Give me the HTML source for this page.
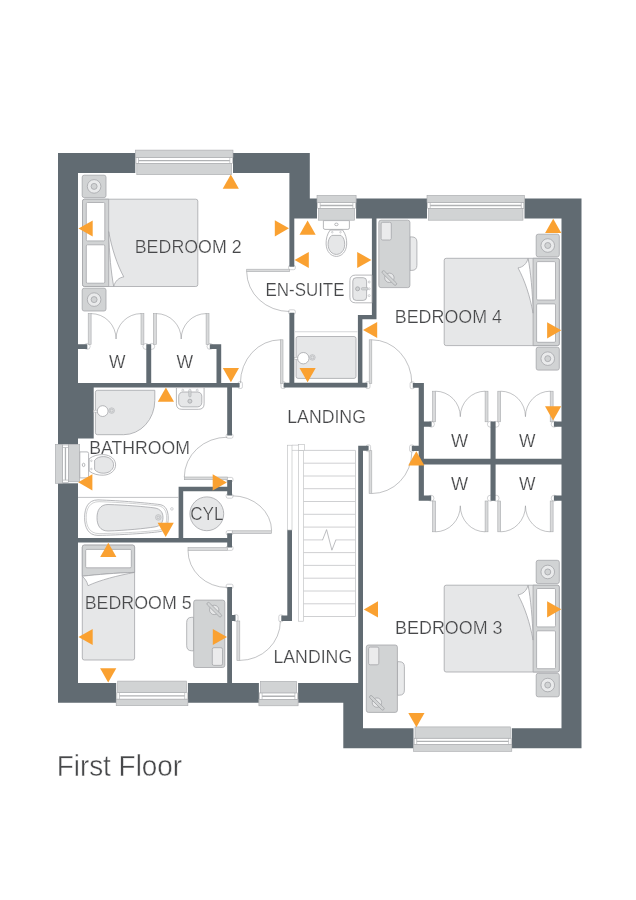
<!DOCTYPE html>
<html lang="en">
<head>
<meta charset="utf-8">
<title>First Floor</title>
<style>
html,body{margin:0;padding:0;background:#fff;}
body{width:636px;height:900px;overflow:hidden;}
svg{display:block;will-change:transform;}
text{font-family:"Liberation Sans",sans-serif;fill:#47484a;}
.lbl{stroke:#fff;stroke-width:0.22px;paint-order:fill stroke;}
.ttl{stroke:#fff;stroke-width:0.45px;paint-order:fill stroke;}
</style>
</head>
<body>
<svg width="636" height="900" viewBox="0 0 636 900">
<rect x="0" y="0" width="636" height="900" fill="#ffffff"/>
<g id="jambs">
<rect x="288.55" y="265.3" width="6.8" height="4.4" fill="#fff" stroke="#b4b6b8" stroke-width="0.6" rx="1.6"/>
<rect x="288.55" y="309.8" width="6.8" height="4.4" fill="#fff" stroke="#b4b6b8" stroke-width="0.6" rx="1.6"/>
<rect x="238" y="381.7" width="4.4" height="6.8" fill="#fff" stroke="#b4b6b8" stroke-width="0.6" rx="1.6"/>
<rect x="281" y="381.7" width="4.4" height="6.8" fill="#fff" stroke="#b4b6b8" stroke-width="0.6" rx="1.6"/>
<rect x="365.6" y="381.7" width="4.4" height="6.8" fill="#fff" stroke="#b4b6b8" stroke-width="0.6" rx="1.6"/>
<rect x="410.1" y="381.9" width="4.4" height="6.8" fill="#fff" stroke="#b4b6b8" stroke-width="0.6" rx="1.6"/>
<rect x="226.2" y="433.8" width="6.8" height="4.4" fill="#fff" stroke="#b4b6b8" stroke-width="0.6" rx="1.6"/>
<rect x="226.2" y="477.4" width="6.8" height="4.4" fill="#fff" stroke="#b4b6b8" stroke-width="0.6" rx="1.6"/>
<rect x="226.2" y="493.8" width="6.8" height="4.4" fill="#fff" stroke="#b4b6b8" stroke-width="0.6" rx="1.6"/>
<rect x="226.2" y="530.6" width="6.8" height="4.4" fill="#fff" stroke="#b4b6b8" stroke-width="0.6" rx="1.6"/>
<rect x="226.2" y="546" width="6.8" height="4.4" fill="#fff" stroke="#b4b6b8" stroke-width="0.6" rx="1.6"/>
<rect x="226.2" y="584.2" width="6.8" height="4.4" fill="#fff" stroke="#b4b6b8" stroke-width="0.6" rx="1.6"/>
<rect x="233.6" y="614.6" width="4.4" height="6.8" fill="#fff" stroke="#b4b6b8" stroke-width="0.6" rx="1.6"/>
<rect x="278.8" y="614.9" width="4.4" height="6.8" fill="#fff" stroke="#b4b6b8" stroke-width="0.6" rx="1.6"/>
<rect x="366.2" y="444.9" width="4.4" height="6.8" fill="#fff" stroke="#b4b6b8" stroke-width="0.6" rx="1.6"/>
<rect x="409.6" y="445" width="4.4" height="6.8" fill="#fff" stroke="#b4b6b8" stroke-width="0.6" rx="1.6"/>
<circle cx="87.2" cy="346.4" r="3" fill="#fff" stroke="#b4b6b8" stroke-width="0.6"/>
<circle cx="145.9" cy="346.4" r="3" fill="#fff" stroke="#b4b6b8" stroke-width="0.6"/>
<circle cx="151.7" cy="346.4" r="3" fill="#fff" stroke="#b4b6b8" stroke-width="0.6"/>
<circle cx="210" cy="346.4" r="3" fill="#fff" stroke="#b4b6b8" stroke-width="0.6"/>
<circle cx="431.4" cy="424.2" r="3" fill="#fff" stroke="#b4b6b8" stroke-width="0.6"/>
<circle cx="490.4" cy="424.2" r="3" fill="#fff" stroke="#b4b6b8" stroke-width="0.6"/>
<circle cx="496.1" cy="424.2" r="3" fill="#fff" stroke="#b4b6b8" stroke-width="0.6"/>
<circle cx="554.2" cy="424.2" r="3" fill="#fff" stroke="#b4b6b8" stroke-width="0.6"/>
<circle cx="431" cy="498.2" r="3" fill="#fff" stroke="#b4b6b8" stroke-width="0.6"/>
<circle cx="490.4" cy="498.2" r="3" fill="#fff" stroke="#b4b6b8" stroke-width="0.6"/>
<circle cx="496.1" cy="498.2" r="3" fill="#fff" stroke="#b4b6b8" stroke-width="0.6"/>
<circle cx="554.2" cy="498.2" r="3" fill="#fff" stroke="#b4b6b8" stroke-width="0.6"/>
</g>
<path id="walls" d="M58 153H78V702.8H58ZM58 153H309.8V173H58ZM289.4 153H309.8V218.4H289.4ZM289.4 198.6H581.5V218.4H289.4ZM561.5 198.6H581.5V748.2H561.5ZM343.3 728.3H581.5V748.2H343.3ZM343.3 683H363V748.2H343.3ZM58 683H363V702.8H58ZM78 383H93.7V438.4H78ZM78 383H239.6V387.6H78ZM146.3 344.2H151.2V383H146.3ZM78 344.3H87.3V349H78ZM216.5 344.2H221.2V383H216.5ZM209.8 344.3H221.2V349H209.8ZM227.2 383H232V435.4H227.2ZM289.4 218H294.3V266.8H289.4ZM289.4 312.7H294.3V387.5H289.4ZM283.6 382.8H367.4V387.5H283.6ZM371.9 218H376.5V319.2H371.9ZM357.9 315H376.5V319.2H357.9ZM357.9 315H362.4V387.5H357.9ZM418.7 382.9H423.9V500.8H418.7ZM412.8 382.9H423.9V387.8H412.8ZM411.8 445.8H423.9V451H411.8ZM418.7 458.8H561.5V464.6H418.7ZM490.5 421.6H495.6V500.8H490.5ZM419 421.6H431.6V426.7H419ZM419 495.6H431.2V500.8H419ZM553.9 421.6H561.5V426.7H553.9ZM553.9 495.6H561.5V500.8H553.9ZM358.2 445.8H363V683H358.2ZM358.2 445.8H368.6V450.8H358.2ZM287.3 529.4H292V621H287.3ZM281.3 615.6H292V621H281.3ZM232 615H235.5V621H232ZM227.2 480H232V495.4H227.2ZM227.2 533.2H232V547.6H227.2ZM227.2 587H232V683H227.2ZM178.6 486.8H232V491.2H178.6ZM178.6 486.8H183.2V540H178.6ZM78 538H232V542.5H78Z" fill="#616b72"/>
<g id="windows">
<rect x="135.3" y="150.1" width="97.7" height="24.6" fill="#fff"/>
<rect x="136" y="157.5" width="96.3" height="6.1" fill="#fff" stroke="#a7a9ac" stroke-width="0.6"/>
<path d="M138.5 157.5V163.6M229.8 157.5V163.6" fill="none" stroke="#a7a9ac" stroke-width="0.6"/>
<path d="M138.5 160.55H229.8" fill="none" stroke="#b0b2b4" stroke-width="1.3"/>
<rect x="135.3" y="150.1" width="97.7" height="7.4" fill="#d1d3d4" stroke="#a7a9ac" stroke-width="0.6"/>
<rect x="136.8" y="163.6" width="94.7" height="11.1" fill="#d1d3d4" stroke="#a7a9ac" stroke-width="0.6"/>
<rect x="317" y="195.3" width="39.1" height="24.9" fill="#fff"/>
<rect x="317.7" y="202.5" width="37.7" height="6" fill="#fff" stroke="#a7a9ac" stroke-width="0.6"/>
<path d="M320.2 202.5V208.5M352.9 202.5V208.5" fill="none" stroke="#a7a9ac" stroke-width="0.6"/>
<path d="M320.2 205.5H352.9" fill="none" stroke="#b0b2b4" stroke-width="1.3"/>
<rect x="317" y="195.3" width="39.1" height="7.2" fill="#d1d3d4" stroke="#a7a9ac" stroke-width="0.6"/>
<rect x="318.5" y="208.5" width="36.1" height="11.7" fill="#d1d3d4" stroke="#a7a9ac" stroke-width="0.6"/>
<rect x="427" y="195.3" width="97.5" height="24.9" fill="#fff"/>
<rect x="427.7" y="202.5" width="96.1" height="6" fill="#fff" stroke="#a7a9ac" stroke-width="0.6"/>
<path d="M430.2 202.5V208.5M521.3 202.5V208.5" fill="none" stroke="#a7a9ac" stroke-width="0.6"/>
<path d="M430.2 205.5H521.3" fill="none" stroke="#b0b2b4" stroke-width="1.3"/>
<rect x="427" y="195.3" width="97.5" height="7.2" fill="#d1d3d4" stroke="#a7a9ac" stroke-width="0.6"/>
<rect x="428.5" y="208.5" width="94.5" height="11.7" fill="#d1d3d4" stroke="#a7a9ac" stroke-width="0.6"/>
<rect x="116.2" y="681.1" width="71.7" height="24.6" fill="#fff"/>
<rect x="116.9" y="692.7" width="70.3" height="6.5" fill="#fff" stroke="#a7a9ac" stroke-width="0.6"/>
<path d="M119.4 699.2V692.7M184.7 699.2V692.7" fill="none" stroke="#a7a9ac" stroke-width="0.6"/>
<path d="M119.4 695.95H184.7" fill="none" stroke="#b0b2b4" stroke-width="1.3"/>
<rect x="116.2" y="699.2" width="71.7" height="6.5" fill="#d1d3d4" stroke="#a7a9ac" stroke-width="0.6"/>
<rect x="117.7" y="681.1" width="68.7" height="11.6" fill="#d1d3d4" stroke="#a7a9ac" stroke-width="0.6"/>
<rect x="258.9" y="681.3" width="39.2" height="24.5" fill="#fff"/>
<rect x="259.6" y="692.9" width="37.8" height="6.7" fill="#fff" stroke="#a7a9ac" stroke-width="0.6"/>
<path d="M262.1 699.6V692.9M294.9 699.6V692.9" fill="none" stroke="#a7a9ac" stroke-width="0.6"/>
<path d="M262.1 696.25H294.9" fill="none" stroke="#b0b2b4" stroke-width="1.3"/>
<rect x="258.9" y="699.6" width="39.2" height="6.2" fill="#d1d3d4" stroke="#a7a9ac" stroke-width="0.6"/>
<rect x="260.4" y="681.3" width="36.2" height="11.6" fill="#d1d3d4" stroke="#a7a9ac" stroke-width="0.6"/>
<rect x="413.5" y="726.9" width="98.3" height="24.5" fill="#fff"/>
<rect x="414.2" y="738.2" width="96.9" height="6.2" fill="#fff" stroke="#a7a9ac" stroke-width="0.6"/>
<path d="M416.7 744.4V738.2M508.6 744.4V738.2" fill="none" stroke="#a7a9ac" stroke-width="0.6"/>
<path d="M416.7 741.3H508.6" fill="none" stroke="#b0b2b4" stroke-width="1.3"/>
<rect x="413.5" y="744.4" width="98.3" height="7" fill="#d1d3d4" stroke="#a7a9ac" stroke-width="0.6"/>
<rect x="415" y="726.9" width="95.3" height="11.3" fill="#d1d3d4" stroke="#a7a9ac" stroke-width="0.6"/>
<rect x="55.3" y="444.3" width="24.4" height="39" fill="#fff"/>
<rect x="62.5" y="445" width="5.9" height="37.6" fill="#fff" stroke="#a7a9ac" stroke-width="0.6"/>
<path d="M62.5 447.5H68.4M62.5 480.1H68.4" fill="none" stroke="#a7a9ac" stroke-width="0.6"/>
<path d="M65.45 447.5V480.1" fill="none" stroke="#b0b2b4" stroke-width="1.3"/>
<rect x="55.3" y="444.3" width="7.2" height="39" fill="#d1d3d4" stroke="#a7a9ac" stroke-width="0.6"/>
<rect x="68.4" y="444.6" width="11.3" height="37.2" fill="#d1d3d4" stroke="#a7a9ac" stroke-width="0.6"/>
</g>
<g id="stairs">
<rect x="287.3" y="445.2" width="4.7" height="84.8" fill="#fff" stroke="#b9bbbd" stroke-width="0.6"/>
<path d="M292 445.2H298.6M292 450.4H298.6" fill="none" stroke="#b9bbbd" stroke-width="0.6"/>
<rect x="298.6" y="444.4" width="6" height="6.3" fill="#fff" stroke="#b9bbbd" stroke-width="0.6"/>
<rect x="298.6" y="450.7" width="5" height="170.5" fill="#fff" stroke="#b9bbbd" stroke-width="0.6"/>
<path d="M303.6 450.4H355.5M303.6 463.2H355.5M303.6 476.0H355.5M303.6 488.7H355.5M303.6 501.5H355.5M303.6 514.3H355.5M303.6 527.1H355.5M303.6 539.9H323M335.5 539.9H355.5M303.6 552.6H355.5M303.6 565.4H355.5M303.6 578.2H355.5M303.6 591.0H355.5M303.6 603.8H355.5M303.6 616.5H355.5" fill="none" stroke="#c9cbcd" stroke-width="0.9"/>
<path d="M355.5 450.4V616.5" fill="none" stroke="#c9cbcd" stroke-width="0.9"/>
<path d="M322.6 539.9L326.6 529.6L331.9 550.2L335.9 539.9" fill="none" stroke="#a2a4a7" stroke-width="0.7" stroke-linejoin="miter"/>
</g>
<g id="doors">
<rect x="88.2" y="313.6" width="2.9" height="30.7" fill="#d9dadb" stroke="#a9abad" stroke-width="0.6"/>
<rect x="141" y="313.6" width="2.9" height="30.7" fill="#d9dadb" stroke="#a9abad" stroke-width="0.6"/>
<path d="M91.1 313.6A24.95 25.4 0 0 1 116.05 339" fill="none" stroke="#8f9194" stroke-width="0.55"/>
<path d="M141 313.6A24.95 25.4 0 0 0 116.05 339" fill="none" stroke="#8f9194" stroke-width="0.55"/>
<rect x="153.4" y="313.6" width="2.9" height="30.7" fill="#d9dadb" stroke="#a9abad" stroke-width="0.6"/>
<rect x="206.1" y="313.6" width="2.9" height="30.7" fill="#d9dadb" stroke="#a9abad" stroke-width="0.6"/>
<path d="M156.3 313.6A24.9 25.4 0 0 1 181.2 339" fill="none" stroke="#8f9194" stroke-width="0.55"/>
<path d="M206.1 313.6A24.9 25.4 0 0 0 181.2 339" fill="none" stroke="#8f9194" stroke-width="0.55"/>
<rect x="432.6" y="391.2" width="2.9" height="30.6" fill="#d9dadb" stroke="#a9abad" stroke-width="0.6"/>
<rect x="485.1" y="391.2" width="2.9" height="30.6" fill="#d9dadb" stroke="#a9abad" stroke-width="0.6"/>
<path d="M435.5 391.2A24.8 25.5 0 0 1 460.3 416.7" fill="none" stroke="#8f9194" stroke-width="0.55"/>
<path d="M485.1 391.2A24.8 25.5 0 0 0 460.3 416.7" fill="none" stroke="#8f9194" stroke-width="0.55"/>
<rect x="497.8" y="391.2" width="2.9" height="30.6" fill="#d9dadb" stroke="#a9abad" stroke-width="0.6"/>
<rect x="550.2" y="391.2" width="2.9" height="30.6" fill="#d9dadb" stroke="#a9abad" stroke-width="0.6"/>
<path d="M500.7 391.2A24.75 25.5 0 0 1 525.45 416.7" fill="none" stroke="#8f9194" stroke-width="0.55"/>
<path d="M550.2 391.2A24.75 25.5 0 0 0 525.45 416.7" fill="none" stroke="#8f9194" stroke-width="0.55"/>
<rect x="432.6" y="501" width="2.9" height="30.8" fill="#d9dadb" stroke="#a9abad" stroke-width="0.6"/>
<rect x="485.1" y="501" width="2.9" height="30.8" fill="#d9dadb" stroke="#a9abad" stroke-width="0.6"/>
<path d="M435.5 531.8A24.8 26 0 0 0 460.3 505.8" fill="none" stroke="#8f9194" stroke-width="0.55"/>
<path d="M485.1 531.8A24.8 26 0 0 1 460.3 505.8" fill="none" stroke="#8f9194" stroke-width="0.55"/>
<rect x="497.8" y="501" width="2.9" height="30.8" fill="#d9dadb" stroke="#a9abad" stroke-width="0.6"/>
<rect x="550.2" y="501" width="2.9" height="30.8" fill="#d9dadb" stroke="#a9abad" stroke-width="0.6"/>
<path d="M500.7 531.8A24.75 26 0 0 0 525.45 505.8" fill="none" stroke="#8f9194" stroke-width="0.55"/>
<path d="M550.2 531.8A24.75 26 0 0 1 525.45 505.8" fill="none" stroke="#8f9194" stroke-width="0.55"/>
<rect x="246.7" y="269.2" width="42.9" height="2.5" fill="#d9dadb" stroke="#a9abad" stroke-width="0.6"/>
<path d="M246.7 271.7A42.8 40 0 0 0 289.5 311.5" fill="none" stroke="#8f9194" stroke-width="0.55"/>
<rect x="280.4" y="339.8" width="2.6" height="43.6" fill="#d9dadb" stroke="#a9abad" stroke-width="0.6"/>
<path d="M280.4 339.8A40 43.4 0 0 0 240.4 383.2" fill="none" stroke="#8f9194" stroke-width="0.55"/>
<rect x="369.2" y="339.8" width="2.6" height="43.6" fill="#d9dadb" stroke="#a9abad" stroke-width="0.6"/>
<path d="M371.8 339.8A40 43.4 0 0 1 411.8 383.2" fill="none" stroke="#8f9194" stroke-width="0.55"/>
<rect x="184.3" y="477" width="43.1" height="2.7" fill="#d9dadb" stroke="#a9abad" stroke-width="0.6"/>
<path d="M184.3 477A43 40 0 0 1 227.4 437.2" fill="none" stroke="#8f9194" stroke-width="0.55"/>
<rect x="232.2" y="530.8" width="39.4" height="2.7" fill="#d9dadb" stroke="#a9abad" stroke-width="0.6"/>
<path d="M271.6 530.8A39.4 35 0 0 0 232.2 495.8" fill="none" stroke="#8f9194" stroke-width="0.55"/>
<rect x="188" y="547.6" width="39.4" height="2.8" fill="#d9dadb" stroke="#a9abad" stroke-width="0.6"/>
<path d="M188 550.4A39.4 37 0 0 0 227.4 587.5" fill="none" stroke="#8f9194" stroke-width="0.55"/>
<rect x="236.9" y="621" width="2.9" height="39.6" fill="#d9dadb" stroke="#a9abad" stroke-width="0.6"/>
<path d="M239.8 660.4A40.6 39.4 0 0 0 280.4 621" fill="none" stroke="#8f9194" stroke-width="0.55"/>
<rect x="369.1" y="450.7" width="2.7" height="42.8" fill="#d9dadb" stroke="#a9abad" stroke-width="0.6"/>
<path d="M371.8 493.5A40 41.5 0 0 0 411.8 452" fill="none" stroke="#8f9194" stroke-width="0.55"/>
</g>
<g id="furniture">
<rect x="82.2" y="175.2" width="23.8" height="22.4" fill="#d1d3d4" stroke="#a4a6a9" stroke-width="0.8" rx="2"/>
<circle cx="94.1" cy="186.4" r="6.8" fill="#e9eaeb" stroke="#a4a6a9" stroke-width="0.8"/>
<circle cx="94.1" cy="186.4" r="3" fill="#d1d3d4" stroke="#a4a6a9" stroke-width="0.8"/>
<rect x="82.2" y="288.2" width="23.8" height="22.8" fill="#d1d3d4" stroke="#a4a6a9" stroke-width="0.8" rx="2"/>
<circle cx="94.1" cy="299.6" r="6.8" fill="#e9eaeb" stroke="#a4a6a9" stroke-width="0.8"/>
<circle cx="94.1" cy="299.6" r="3" fill="#d1d3d4" stroke="#a4a6a9" stroke-width="0.8"/>
<rect x="82.5" y="199.2" width="115.3" height="87.3" fill="#e6e7e8" stroke="#a4a6a9" stroke-width="0.8" rx="2"/>
<path d="M108.7 199.2H84.5Q82.5 199.2 82.5 201.2V284.5Q82.5 286.5 84.5 286.5H108.7Z" fill="#d1d3d4" stroke="#a4a6a9" stroke-width="0.8"/>
<path d="M108.7 231.6C111.8 248.5 117 264.5 123.8 276.9C119 277.5 115.1 281 113.7 286.5C111.1 272.5 109.3 254.5 108.7 231.6Z" fill="#fff" stroke="#a4a6a9" stroke-width="0.8"/>
<rect x="86.3" y="202.5" width="18.5" height="38.4" fill="#fff" stroke="#a4a6a9" stroke-width="0.8" rx="1.2"/>
<rect x="86.3" y="244.8" width="18.5" height="38.4" fill="#fff" stroke="#a4a6a9" stroke-width="0.8" rx="1.2"/>
<rect x="536.2" y="234.2" width="23.1" height="22.6" fill="#d1d3d4" stroke="#a4a6a9" stroke-width="0.8" rx="2"/>
<circle cx="547.75" cy="245.5" r="6.8" fill="#e9eaeb" stroke="#a4a6a9" stroke-width="0.8"/>
<circle cx="547.75" cy="245.5" r="3" fill="#d1d3d4" stroke="#a4a6a9" stroke-width="0.8"/>
<rect x="536.2" y="347.2" width="23.1" height="22.9" fill="#d1d3d4" stroke="#a4a6a9" stroke-width="0.8" rx="2"/>
<circle cx="547.75" cy="358.65" r="6.8" fill="#e9eaeb" stroke="#a4a6a9" stroke-width="0.8"/>
<circle cx="547.75" cy="358.65" r="3" fill="#d1d3d4" stroke="#a4a6a9" stroke-width="0.8"/>
<rect x="444.2" y="258.3" width="115.1" height="87.3" fill="#e6e7e8" stroke="#a4a6a9" stroke-width="0.8" rx="2"/>
<path d="M533.1 258.3H557.3Q559.3 258.3 559.3 260.3V343.6Q559.3 345.6 557.3 345.6H533.1Z" fill="#d1d3d4" stroke="#a4a6a9" stroke-width="0.8"/>
<path d="M533.1 313.2C530 296.3 524.8 280.3 518 267.9C522.8 267.3 526.7 263.8 528.1 258.3C530.7 272.3 532.5 290.3 533.1 313.2Z" fill="#fff" stroke="#a4a6a9" stroke-width="0.8"/>
<rect x="536.6" y="261.6" width="18.9" height="38.4" fill="#fff" stroke="#a4a6a9" stroke-width="0.8" rx="1.2"/>
<rect x="536.6" y="303.9" width="18.9" height="38.4" fill="#fff" stroke="#a4a6a9" stroke-width="0.8" rx="1.2"/>
<rect x="536.2" y="560.3" width="23.1" height="23.3" fill="#d1d3d4" stroke="#a4a6a9" stroke-width="0.8" rx="2"/>
<circle cx="547.75" cy="571.95" r="6.8" fill="#e9eaeb" stroke="#a4a6a9" stroke-width="0.8"/>
<circle cx="547.75" cy="571.95" r="3" fill="#d1d3d4" stroke="#a4a6a9" stroke-width="0.8"/>
<rect x="536.2" y="673.3" width="23.1" height="23.5" fill="#d1d3d4" stroke="#a4a6a9" stroke-width="0.8" rx="2"/>
<circle cx="547.75" cy="685.05" r="6.8" fill="#e9eaeb" stroke="#a4a6a9" stroke-width="0.8"/>
<circle cx="547.75" cy="685.05" r="3" fill="#d1d3d4" stroke="#a4a6a9" stroke-width="0.8"/>
<rect x="444.2" y="585.2" width="115.1" height="86.8" fill="#e6e7e8" stroke="#a4a6a9" stroke-width="0.8" rx="2"/>
<path d="M533.1 585.2H557.3Q559.3 585.2 559.3 587.2V670Q559.3 672 557.3 672H533.1Z" fill="#d1d3d4" stroke="#a4a6a9" stroke-width="0.8"/>
<path d="M533.1 640.1C530 623.2 524.8 607.2 518 594.8C522.8 594.2 526.7 590.7 528.1 585.2C530.7 599.2 532.5 617.2 533.1 640.1Z" fill="#fff" stroke="#a4a6a9" stroke-width="0.8"/>
<rect x="536.6" y="588.5" width="18.9" height="38.4" fill="#fff" stroke="#a4a6a9" stroke-width="0.8" rx="1.2"/>
<rect x="536.6" y="630.8" width="18.9" height="37.9" fill="#fff" stroke="#a4a6a9" stroke-width="0.8" rx="1.2"/>
<rect x="82.3" y="545.1" width="52.3" height="114.9" fill="#e6e7e8" stroke="#a4a6a9" stroke-width="0.8" rx="2"/>
<path d="M82.3 576.2V547.1Q82.3 545.1 84.3 545.1H132.6Q134.6 545.1 134.6 547.1V572.4C115 573 98 574.5 82.3 576.2Z" fill="#d1d3d4" stroke="#a4a6a9" stroke-width="0.8"/>
<rect x="85.7" y="549.4" width="45.6" height="18.4" fill="#fff" stroke="#a4a6a9" stroke-width="0.8" rx="1.2"/>
<path d="M134.6 572.4C115 573 98 574.5 82.3 576.2C84.5 578.5 87 581 88 585.7C100 580 118 575.5 134.6 572.4Z" fill="#fff" stroke="#a4a6a9" stroke-width="0.8"/>
<g transform="translate(378.8 220.2)">
<path d="M31.1 16.7H33Q38.1 16.7 38.1 21.8V45.1Q38.1 50.2 33 50.2H31.1Z" fill="#e9eaeb" stroke="#a4a6a9" stroke-width="0.8"/>
<rect x="0" y="0" width="31.1" height="67.4" fill="#d1d3d4" stroke="#a4a6a9" stroke-width="0.8" rx="2.2"/>
<rect x="2.3" y="2.1" width="10.2" height="17.7" fill="#ebebec" stroke="#a4a6a9" stroke-width="0.8" rx="1.6"/>
<circle cx="10.6" cy="57.6" r="4.7" fill="#e6e7e8" stroke="#a4a6a9" stroke-width="0.8"/>
<rect x="-9.7" y="-1.45" width="19.4" height="2.9" rx="1.45" fill="#d1d3d4" stroke="#a4a6a9" stroke-width="0.8" transform="translate(10.55 57.8) rotate(44.8)"/>
</g>
<g transform="translate(366.3 645)">
<path d="M31.1 16.7H33Q38.1 16.7 38.1 21.8V45.1Q38.1 50.2 33 50.2H31.1Z" fill="#e9eaeb" stroke="#a4a6a9" stroke-width="0.8"/>
<rect x="0" y="0" width="31.1" height="67.4" fill="#d1d3d4" stroke="#a4a6a9" stroke-width="0.8" rx="2.2"/>
<rect x="2.3" y="2.1" width="10.2" height="17.7" fill="#ebebec" stroke="#a4a6a9" stroke-width="0.8" rx="1.6"/>
<circle cx="10.6" cy="57.6" r="4.7" fill="#e6e7e8" stroke="#a4a6a9" stroke-width="0.8"/>
<rect x="-9.7" y="-1.45" width="19.4" height="2.9" rx="1.45" fill="#d1d3d4" stroke="#a4a6a9" stroke-width="0.8" transform="translate(10.55 57.8) rotate(44.8)"/>
</g>
<g transform="translate(224.8 667.5) rotate(180)">
<path d="M31.1 16.7H33Q38.1 16.7 38.1 21.8V45.1Q38.1 50.2 33 50.2H31.1Z" fill="#e9eaeb" stroke="#a4a6a9" stroke-width="0.8"/>
<rect x="0" y="0" width="31.1" height="67.4" fill="#d1d3d4" stroke="#a4a6a9" stroke-width="0.8" rx="2.2"/>
<rect x="2.3" y="2.1" width="10.2" height="17.7" fill="#ebebec" stroke="#a4a6a9" stroke-width="0.8" rx="1.6"/>
<circle cx="10.6" cy="57.6" r="4.7" fill="#e6e7e8" stroke="#a4a6a9" stroke-width="0.8"/>
<rect x="-9.7" y="-1.45" width="19.4" height="2.9" rx="1.45" fill="#d1d3d4" stroke="#a4a6a9" stroke-width="0.8" transform="translate(10.55 57.8) rotate(44.8)"/>
</g>
<path d="M323.4 220.6H349.4V227.8Q349.4 229.4 347.8 229.4H325Q323.4 229.4 323.4 227.8Z" fill="#fff" stroke="#a4a6a9" stroke-width="0.8"/>
<ellipse cx="336.4" cy="224.4" rx="1.7" ry="1.3" fill="#fff" stroke="#a4a6a9" stroke-width="0.8"/>
<path d="M330.2 230H342.6C345.7 234 346.8 239 346.7 244C346.4 252 341.4 256.4 336.4 256.4C331.4 256.4 326.4 252 326.1 244C326 239 327.1 234 330.2 230Z" fill="#fff" stroke="#a4a6a9" stroke-width="0.8"/>
<path d="M331.8 235.4H341C343.8 237.5 344.8 241 344.7 244.6C344.5 251 340.4 254.4 336.4 254.4C332.4 254.4 328.3 251 328.1 244.6C328 241 329 237.5 331.8 235.4Z" fill="#e6e7e8" stroke="#a4a6a9" stroke-width="0.8"/>
<circle cx="332.3" cy="232.2" r="0.8" fill="#fff" stroke="#a7a9ac" stroke-width="0.5"/>
<circle cx="340.5" cy="232.2" r="0.8" fill="#fff" stroke="#a7a9ac" stroke-width="0.5"/>
<g transform="translate(79.8 464.9) rotate(-90)">
<path d="M-13 0H13V7.2Q13 8.8 11.4 8.8H-11.4Q-13 8.8 -13 7.2Z" fill="#fff" stroke="#a4a6a9" stroke-width="0.8"/>
<ellipse cx="0" cy="3.8" rx="1.7" ry="1.3" fill="#fff" stroke="#a4a6a9" stroke-width="0.8"/>
<path d="M-6.2 9.4H6.2C9.3 13.4 10.4 18.4 10.3 23.4C10 31.4 5 35.8 0 35.8C-5 35.8 -10 31.4 -10.3 23.4C-10.4 18.4 -9.3 13.4 -6.2 9.4Z" fill="#fff" stroke="#a4a6a9" stroke-width="0.8"/>
<path d="M-4.6 14.8H4.6C7.4 16.9 8.4 20.4 8.3 24C8.1 30.4 4 33.8 0 33.8C-4 33.8 -8.1 30.4 -8.3 24C-8.4 20.4 -7.4 16.9 -4.6 14.8Z" fill="#e6e7e8" stroke="#a4a6a9" stroke-width="0.8"/>
<circle cx="-4.1" cy="11.6" r="0.8" fill="#fff" stroke="#a7a9ac" stroke-width="0.5"/>
<circle cx="4.1" cy="11.6" r="0.8" fill="#fff" stroke="#a7a9ac" stroke-width="0.5"/>
</g>
<path d="M372 275.1H355.5Q349.9 275.1 349.9 280.7V297.2Q349.9 302.8 355.5 302.8H372Z" fill="#fff" stroke="#a4a6a9" stroke-width="0.8"/>
<rect x="352.8" y="277.7" width="13.8" height="22.7" fill="#e6e7e8" stroke="#a4a6a9" stroke-width="0.8" rx="3.4"/>
<circle cx="357.6" cy="288.8" r="2" fill="#d1d3d4" stroke="#a4a6a9" stroke-width="0.8"/>
<rect x="361.3" y="287.6" width="7" height="2.4" fill="#d1d3d4" stroke="#a7a9ac" stroke-width="0.5" rx="1.2"/>
<circle cx="369.2" cy="282" r="1" fill="#fff" stroke="#a7a9ac" stroke-width="0.5"/>
<circle cx="369.2" cy="295.6" r="1" fill="#fff" stroke="#a7a9ac" stroke-width="0.5"/>
<circle cx="369.2" cy="288.8" r="1" fill="#fff" stroke="#a7a9ac" stroke-width="0.5"/>
<path d="M176.4 387.6V403.8Q176.4 409.3 181.9 409.3H198.6Q204.1 409.3 204.1 403.8V387.6Z" fill="#fff" stroke="#a4a6a9" stroke-width="0.8"/>
<rect x="178.7" y="392" width="23.1" height="14.9" fill="#e6e7e8" stroke="#a4a6a9" stroke-width="0.8" rx="4.2"/>
<circle cx="189.9" cy="401.2" r="2" fill="#d1d3d4" stroke="#a4a6a9" stroke-width="0.8"/>
<rect x="188.7" y="390" width="2.4" height="7" fill="#d1d3d4" stroke="#a7a9ac" stroke-width="0.5" rx="1.2"/>
<circle cx="182.8" cy="390.2" r="1" fill="#fff" stroke="#a7a9ac" stroke-width="0.5"/>
<circle cx="197.2" cy="390.2" r="1" fill="#fff" stroke="#a7a9ac" stroke-width="0.5"/>
<circle cx="189.9" cy="390.2" r="1" fill="#fff" stroke="#a7a9ac" stroke-width="0.5"/>
<path d="M294.4 331.7H357.6" fill="none" stroke="#d5d6d8" stroke-width="1.1"/>
<rect x="296.1" y="336.5" width="59.9" height="41.9" fill="#e6e7e8" stroke="#a4a6a9" stroke-width="0.8" rx="2"/>
<rect x="294.4" y="357.3" width="4.1" height="1.9" fill="#fff" stroke="#a7a9ac" stroke-width="0.5"/>
<circle cx="303.3" cy="358.2" r="5.7" fill="#fff" stroke="#a4a6a9" stroke-width="0.8"/>
<circle cx="312.4" cy="357.4" r="2.8" fill="#dfe0e1" stroke="#a7a9ac" stroke-width="0.5"/>
<circle cx="312.4" cy="357.4" r="1.5" fill="none" stroke="#a7a9ac" stroke-width="0.5"/>
<path d="M97.4 390.3H154.8V400.4A31.2 34.3 0 0 1 123.6 434.7H97.4Q95.4 434.7 95.4 432.7V392.3Q95.4 390.3 97.4 390.3Z" fill="#e6e7e8" stroke="#a4a6a9" stroke-width="0.8"/>
<rect x="93.7" y="410.2" width="4.3" height="1.9" fill="#fff" stroke="#a7a9ac" stroke-width="0.5"/>
<circle cx="102.7" cy="411.1" r="5.4" fill="#fff" stroke="#a4a6a9" stroke-width="0.8"/>
<circle cx="111.7" cy="410.6" r="2.8" fill="#dfe0e1" stroke="#a7a9ac" stroke-width="0.5"/>
<circle cx="111.7" cy="410.6" r="1.5" fill="none" stroke="#a7a9ac" stroke-width="0.5"/>
<path d="M78 497.4H178.6" fill="none" stroke="#a7a9ac" stroke-width="0.7"/>
<path d="M98 499.9C120 500.6 148 503 160 504.6C166 505.6 168.2 511 168.2 518C168.2 525.5 166 530.5 160 531.6C148 533.3 120 535 98 535.4C88 535.4 84.6 527 84.6 517.6C84.6 508 88 499.9 98 499.9Z" fill="#fff" stroke="#a4a6a9" stroke-width="0.8"/>
<g transform="translate(126.4 517.6) scale(0.962 0.9) translate(-126.4 -517.6)">
<path d="M98 499.9C120 500.6 148 503 160 504.6C166 505.6 168.2 511 168.2 518C168.2 525.5 166 530.5 160 531.6C148 533.3 120 535 98 535.4C88 535.4 84.6 527 84.6 517.6C84.6 508 88 499.9 98 499.9Z" fill="none" stroke="#a4a6a9" stroke-width="0.55"/>
</g>
<path d="M108 504.5C125 505 145 506.6 155 508C160.5 509 163 512.5 163 517.6C163 522.5 160.5 526 155 526.9C145 528.5 125 530.5 108 531C100 531 97 525 97 517.7C97 510.5 100 504.5 108 504.5Z" fill="#e6e7e8" stroke="#a4a6a9" stroke-width="0.8"/>
<circle cx="158.3" cy="517.4" r="2.8" fill="#dfe0e1" stroke="#a7a9ac" stroke-width="0.5"/>
<circle cx="158.3" cy="517.4" r="1.3" fill="none" stroke="#a7a9ac" stroke-width="0.5"/>
<circle cx="171.9" cy="508.9" r="1.3" fill="#fff" stroke="#a7a9ac" stroke-width="0.5"/>
<circle cx="206.8" cy="513.8" r="16.9" fill="#e6e7e8" stroke="#a4a6a9" stroke-width="0.8"/>
</g>
<g id="arrows">
<polygon points="230.8,174.5 222.7,188.7 238.9,188.7" fill="#faa131"/>
<polygon points="289,228.3 274.8,220.2 274.8,236.4" fill="#faa131"/>
<polygon points="307.6,220.5 299.5,234.7 315.7,234.7" fill="#faa131"/>
<polygon points="294.6,260 308.8,251.9 308.8,268.1" fill="#faa131"/>
<polygon points="78.5,228.5 92.7,220.4 92.7,236.6" fill="#faa131"/>
<polygon points="230.9,382.3 222.8,368.1 239,368.1" fill="#faa131"/>
<polygon points="165.9,387.6 157.8,401.8 174,401.8" fill="#faa131"/>
<polygon points="78.2,482.3 92.4,474.2 92.4,490.4" fill="#faa131"/>
<polygon points="226.9,482.4 212.7,474.3 212.7,490.5" fill="#faa131"/>
<polygon points="363.8,609.4 378,601.3 378,617.5" fill="#faa131"/>
<polygon points="371.4,260 357.2,251.9 357.2,268.1" fill="#faa131"/>
<polygon points="307.6,382.3 299.5,368.1 315.7,368.1" fill="#faa131"/>
<polygon points="363,330 377.2,321.9 377.2,338.1" fill="#faa131"/>
<polygon points="553.2,218.8 545.1,233 561.3,233" fill="#faa131"/>
<polygon points="561.3,330.3 547.1,322.2 547.1,338.4" fill="#faa131"/>
<polygon points="553.1,420.5 545,406.3 561.2,406.3" fill="#faa131"/>
<polygon points="416.3,451.3 408.2,465.5 424.4,465.5" fill="#faa131"/>
<polygon points="561.3,609.3 547.1,601.2 547.1,617.4" fill="#faa131"/>
<polygon points="165.7,537 157.6,522.8 173.8,522.8" fill="#faa131"/>
<polygon points="108.3,542.7 100.2,556.9 116.4,556.9" fill="#faa131"/>
<polygon points="78.5,637 92.7,628.9 92.7,645.1" fill="#faa131"/>
<polygon points="108.2,682.4 100.1,668.2 116.3,668.2" fill="#faa131"/>
<polygon points="227,637 212.8,628.9 212.8,645.1" fill="#faa131"/>
<polygon points="416.4,727.2 408.3,713 424.5,713" fill="#faa131"/>
</g>
<g id="labels">
<text x="134.74" y="252.9" font-size="19.2" textLength="106.95" lengthAdjust="spacingAndGlyphs" class="lbl">BEDROOM 2</text>
<text x="394.74" y="322.9" font-size="19.2" textLength="107.27" lengthAdjust="spacingAndGlyphs" class="lbl">BEDROOM 4</text>
<text x="395.11" y="633.5" font-size="19.2" textLength="107.47" lengthAdjust="spacingAndGlyphs" class="lbl">BEDROOM 3</text>
<text x="84.74" y="608.9" font-size="19.2" textLength="106.94" lengthAdjust="spacingAndGlyphs" class="lbl">BEDROOM 5</text>
<text x="265.46" y="296.3" font-size="19.2" textLength="79.08" lengthAdjust="spacingAndGlyphs" class="lbl">EN-SUITE</text>
<text x="89.34" y="453.6" font-size="19.2" textLength="100.69" lengthAdjust="spacingAndGlyphs" class="lbl">BATHROOM</text>
<text x="287.26" y="422.9" font-size="19.2" textLength="78.64" lengthAdjust="spacingAndGlyphs" class="lbl">LANDING</text>
<text x="273.47" y="663.4" font-size="19.2" textLength="78.68" lengthAdjust="spacingAndGlyphs" class="lbl">LANDING</text>
<text x="190.14" y="519.7" font-size="19.2" textLength="33.32" lengthAdjust="spacingAndGlyphs" class="lbl">CYL</text>
<text x="108.9" y="368.1" font-size="19.2" textLength="16.48" lengthAdjust="spacingAndGlyphs" class="lbl">W</text>
<text x="176.4" y="368.1" font-size="19.2" textLength="16.61" lengthAdjust="spacingAndGlyphs" class="lbl">W</text>
<text x="451.03" y="447" font-size="19.2" textLength="17.15" lengthAdjust="spacingAndGlyphs" class="lbl">W</text>
<text x="518.9" y="447" font-size="19.2" textLength="16.48" lengthAdjust="spacingAndGlyphs" class="lbl">W</text>
<text x="451.03" y="490.4" font-size="19.2" textLength="17.15" lengthAdjust="spacingAndGlyphs" class="lbl">W</text>
<text x="518.9" y="490.4" font-size="19.2" textLength="16.48" lengthAdjust="spacingAndGlyphs" class="lbl">W</text>
<text x="56.66" y="776.1" font-size="30" textLength="125.47" lengthAdjust="spacingAndGlyphs" class="ttl">First Floor</text>
</g>
</svg>
</body>
</html>
